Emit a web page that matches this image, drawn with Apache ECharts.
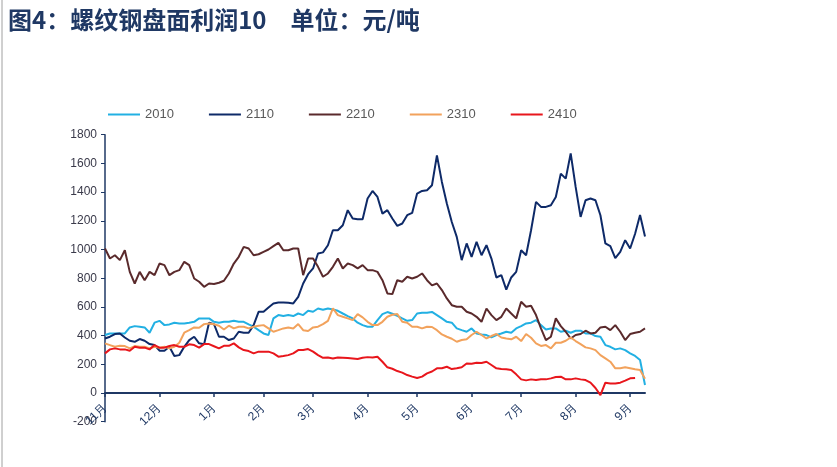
<!DOCTYPE html>
<html>
<head>
<meta charset="utf-8">
<script src="https://cdn.jsdelivr.net/npm/echarts@6/dist/echarts.min.js"></script>
<style>
html,body{margin:0;padding:0;background:#fff;}
#c{width:837px;height:467px;}
</style>
</head>
<body>
<div id="c"></div>
<script>
// month tick labels and number of sampled points per month
const monthLabels = ['11月','12月','1月','2月','3月','4月','5月','6月','7月','8月','9月'];
const monthPoints = [11,11,10,10,11,10,11,10,11,11,4];

const seriesNames = ['2010','2110','2210','2310','2410'];

const s2010 = [404,415,415,415,415,457,466,462,457,420,490,503,473,478,490,485,485,490,496,520,520,520,496,
  490,496,496,503,496,496,478,462,438,415,404,520,543,536,543,536,554,543,573,566,589,580,
  589,582,573,554,536,520,490,473,462,462,508,550,564,552,538,520,503,508,554,559,559,565,
  543,520,496,490,450,438,427,450,415,408,404,387,404,415,427,420,450,466,485,490,508,473,
  443,450,450,427,434,420,434,434,415,415,397,392,334,322,304,311,299,276,258,230,56];

const s2110 = [380,392,411,415,387,364,357,376,364,341,334,295,295,322,258,264,322,369,392,346,340,490,480,
  392,392,369,380,427,420,420,473,566,566,596,624,631,631,629,624,670,763,828,868,972,980,
  1030,1134,1134,1169,1274,1216,1211,1211,1355,1408,1366,1250,1274,1216,1165,1181,1239,1255,1390,1408,1413,1448,
  1656,1471,1320,1192,1088,926,1042,949,1053,960,1030,937,805,821,720,805,844,995,960,1134,1332,1297,
  1297,1308,1366,1529,1494,1670,1436,1227,1343,1355,1343,1239,1042,1023,940,984,1065,1007,1110,1240,1090];

const s2210 = [1007,937,960,926,995,844,763,844,786,844,821,902,891,821,844,856,914,891,798,775,740,763,760,
  768,782,833,902,949,1018,1007,960,967,984,1000,1023,1046,995,995,1007,1007,821,937,937,879,810,
  833,879,937,868,902,891,868,891,856,856,844,786,694,689,786,775,810,798,810,833,786,750,
  763,717,659,612,601,601,566,554,531,496,589,543,508,531,589,554,520,636,601,608,543,450,
  369,392,520,466,427,380,404,411,434,415,420,457,462,438,473,427,369,411,420,427,450];

const s2310 = [346,334,322,329,327,311,327,322,322,311,322,316,322,311,322,350,420,438,457,455,480,485,479,
  469,443,469,450,462,462,450,462,469,473,450,427,438,450,457,450,480,438,432,457,462,480,
  503,590,543,531,520,508,550,527,496,473,473,496,531,545,550,496,490,462,462,450,462,460,
  438,408,392,378,357,369,374,404,427,404,380,397,411,387,380,374,392,362,411,385,346,328,
  334,311,350,350,364,387,362,341,318,311,299,264,241,218,172,172,179,172,165,160,100];

const s2410 = [276,304,311,304,304,295,322,316,316,304,334,316,316,327,334,322,322,339,334,316,341,341,326,
  311,329,329,346,318,299,292,276,288,288,288,276,253,258,264,276,299,299,306,288,264,245,
  248,241,248,246,244,241,237,246,250,248,253,218,179,169,153,142,125,114,104,114,137,150,
  172,172,183,167,172,179,206,204,211,209,218,195,172,167,165,160,130,95,88,95,90,96,
  95,102,111,114,95,95,102,95,90,72,35,-15,72,67,67,72,86,102,105,null,null];

const yTicks = {min:-200, max:1800, interval:200};

// build categories: month label + position within month
const categories = [];
monthLabels.forEach((m, mi) => {
  for (let k = 0; k < monthPoints[mi]; k++) categories.push(m + '|' + k);
});
const isMonthStart = (idx, val) => String(val).endsWith('|0');

const colors = ['#22B0E3','#0E2A68','#5A2A2C','#F2A25C','#E8161C'];
const allData = [s2010, s2110, s2210, s2310, s2410];

const chart = echarts.init(document.getElementById('c'), null, {renderer:'canvas'});
chart.setOption({
  animation:false,
  backgroundColor:'#fff',
  title:{
    text:'图4：螺纹钢盘面利润10　单位：元/吨',
    left:3, top:3,
    textStyle:{fontSize:24, fontWeight:'bold', color:'#1F3864', fontFamily:'Noto Sans CJK SC'}
  },
  graphic:[{type:'line', shape:{x1:2,y1:0,x2:2,y2:467}, style:{stroke:'#a0a0a0', lineWidth:1}}],
  legend:{
    top:103, left:103, itemWidth:32, itemHeight:2, itemGap:35, icon:'rect',
    textStyle:{fontSize:13, color:'#595959', fontFamily:'Liberation Sans'},
    data:seriesNames
  },
  grid:{left:105, right:192, top:134.7, bottom:45.3, containLabel:false},
  xAxis:{
    type:'category', data:categories, boundaryGap:false,
    axisLine:{onZero:true, lineStyle:{color:'#1F3864', width:2}},
    axisTick:{show:true, interval:isMonthStart, length:4, lineStyle:{color:'#1F3864', width:1.5}},
    axisLabel:{interval:isMonthStart, rotate:45, margin:-16, fontSize:12, color:'#1F3864',
      fontFamily:'Liberation Sans', formatter:v => v.split('|')[0]},
    splitLine:{show:false}
  },
  yAxis:{
    type:'value', min:yTicks.min, max:yTicks.max, interval:yTicks.interval,
    axisLine:{show:true, lineStyle:{color:'#1F3864', width:1.5}},
    axisTick:{show:true, length:4, lineStyle:{color:'#1F3864'}},
    axisLabel:{fontSize:12, color:'#3a3a4a', fontFamily:'Liberation Sans', margin:8,
      formatter:v => String(v)},
    splitLine:{show:false}
  },
  series: seriesNames.map((n,i)=>({
    name:n, type:'line', data:allData[i], symbol:'none', showSymbol:false,
    connectNulls:false,
    itemStyle:{color:colors[i]},
    lineStyle:{color:colors[i], width:2}
  }))
});
</script>
</body>
</html>
